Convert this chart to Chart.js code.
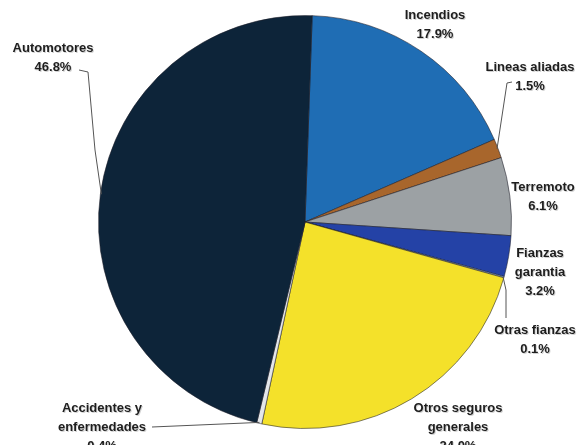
<!DOCTYPE html>
<html>
<head>
<meta charset="utf-8">
<script src="https://cdn.jsdelivr.net/npm/chart.js@4/dist/chart.umd.min.js"></script>
<style>
html,body{margin:0;padding:0;background:#fff;}
#wrap{width:577px;height:445px;position:relative;}
</style>
</head>
<body>
<div id="wrap"><canvas id="c" width="577" height="445"></canvas></div>
<script>
// ---- data ----
const categories = ["Incendios", "Lineas aliadas", "Terremoto", "Fianzas garantia", "Otras fianzas", "Otros seguros generales", "Accidentes y enfermedades", "Automotores"];
const values = [17.9, 1.5, 6.1, 3.2, 0.1, 24.0, 0.4, 46.8];
const valueLabels = ["17.9%", "1.5%", "6.1%", "3.2%", "0.1%", "24.0%", "0.4%", "46.8%"];

// ---- styling / layout ----
const colors = ["#1f6db4", "#a8662c", "#9ca1a4", "#2442a6", "#8fb0d8", "#f4e12a", "#e4e7ea", "#0d2439"];
const labelLines = [
  ["Incendios"], ["Lineas aliadas"], ["Terremoto"], ["Fianzas", "garantia"], ["Otras fianzas"],
  ["Otros seguros", "generales"], ["Accidentes y", "enfermedades"], ["Automotores"]
];
// label anchor (center x, first line y) and optional leader line path (last point = arc edge)
const labelPos = [
  {x:435, y:15}, {x:530, y:67}, {x:543, y:187}, {x:540, y:253}, {x:535, y:330},
  {x:458, y:408}, {x:102, y:408}, {x:53, y:48}
];
const leaders = [
  null,
  [[512,82],[507,83]],
  null,
  null,
  [[506,318],[506,290]],
  null,
  [[152,427]],
  [[79,70],[88,72],[95,150]]
];

const labelPlugin = {
  id: 'pieLabels',
  afterDatasetsDraw(chart) {
    const ctx = chart.ctx;
    const meta = chart.getDatasetMeta(0);
    ctx.save();
    ctx.strokeStyle = '#555';
    ctx.lineWidth = 1;
    meta.data.forEach((arc, i) => {
      const pts = leaders[i];
      if (!pts) return;
      const mid = (arc.startAngle + arc.endAngle) / 2;
      const ex = arc.x + Math.cos(mid) * (arc.outerRadius - 1);
      const ey = arc.y + Math.sin(mid) * (arc.outerRadius - 1);
      ctx.beginPath();
      ctx.moveTo(pts[0][0], pts[0][1]);
      for (let k = 1; k < pts.length; k++) ctx.lineTo(pts[k][0], pts[k][1]);
      ctx.lineTo(ex, ey);
      ctx.stroke();
    });
    ctx.font = 'bold 13px "Liberation Sans", Arial, sans-serif';
    ctx.textAlign = 'center';
    ctx.textBaseline = 'middle';
    labelLines.forEach((lines, i) => {
      const p = labelPos[i];
      const all = lines.concat([valueLabels[i]]);
      all.forEach((t, j) => {
        const y = p.y + j * 19;
        ctx.fillStyle = 'rgba(0,0,0,0.18)';
        ctx.fillText(t, p.x + 1, y + 1);
        ctx.fillStyle = '#1e1e1e';
        ctx.fillText(t, p.x, y);
      });
    });
    ctx.restore();
  }
};

new Chart(document.getElementById('c'), {
  type: 'pie',
  data: {
    labels: categories,
    datasets: [{
      data: values,
      backgroundColor: colors,
      borderColor: 'rgba(30,30,40,0.55)',
      borderWidth: 1
    }]
  },
  options: {
    responsive: false,
    animation: false,
    rotation: 2,
    layout: { padding: { left: 98, right: 65, top: 15, bottom: 16 } },
    plugins: {
      legend: { display: false },
      tooltip: { enabled: false },
      title: { display: false }
    }
  },
  plugins: [labelPlugin]
});
</script>
</body>
</html>
